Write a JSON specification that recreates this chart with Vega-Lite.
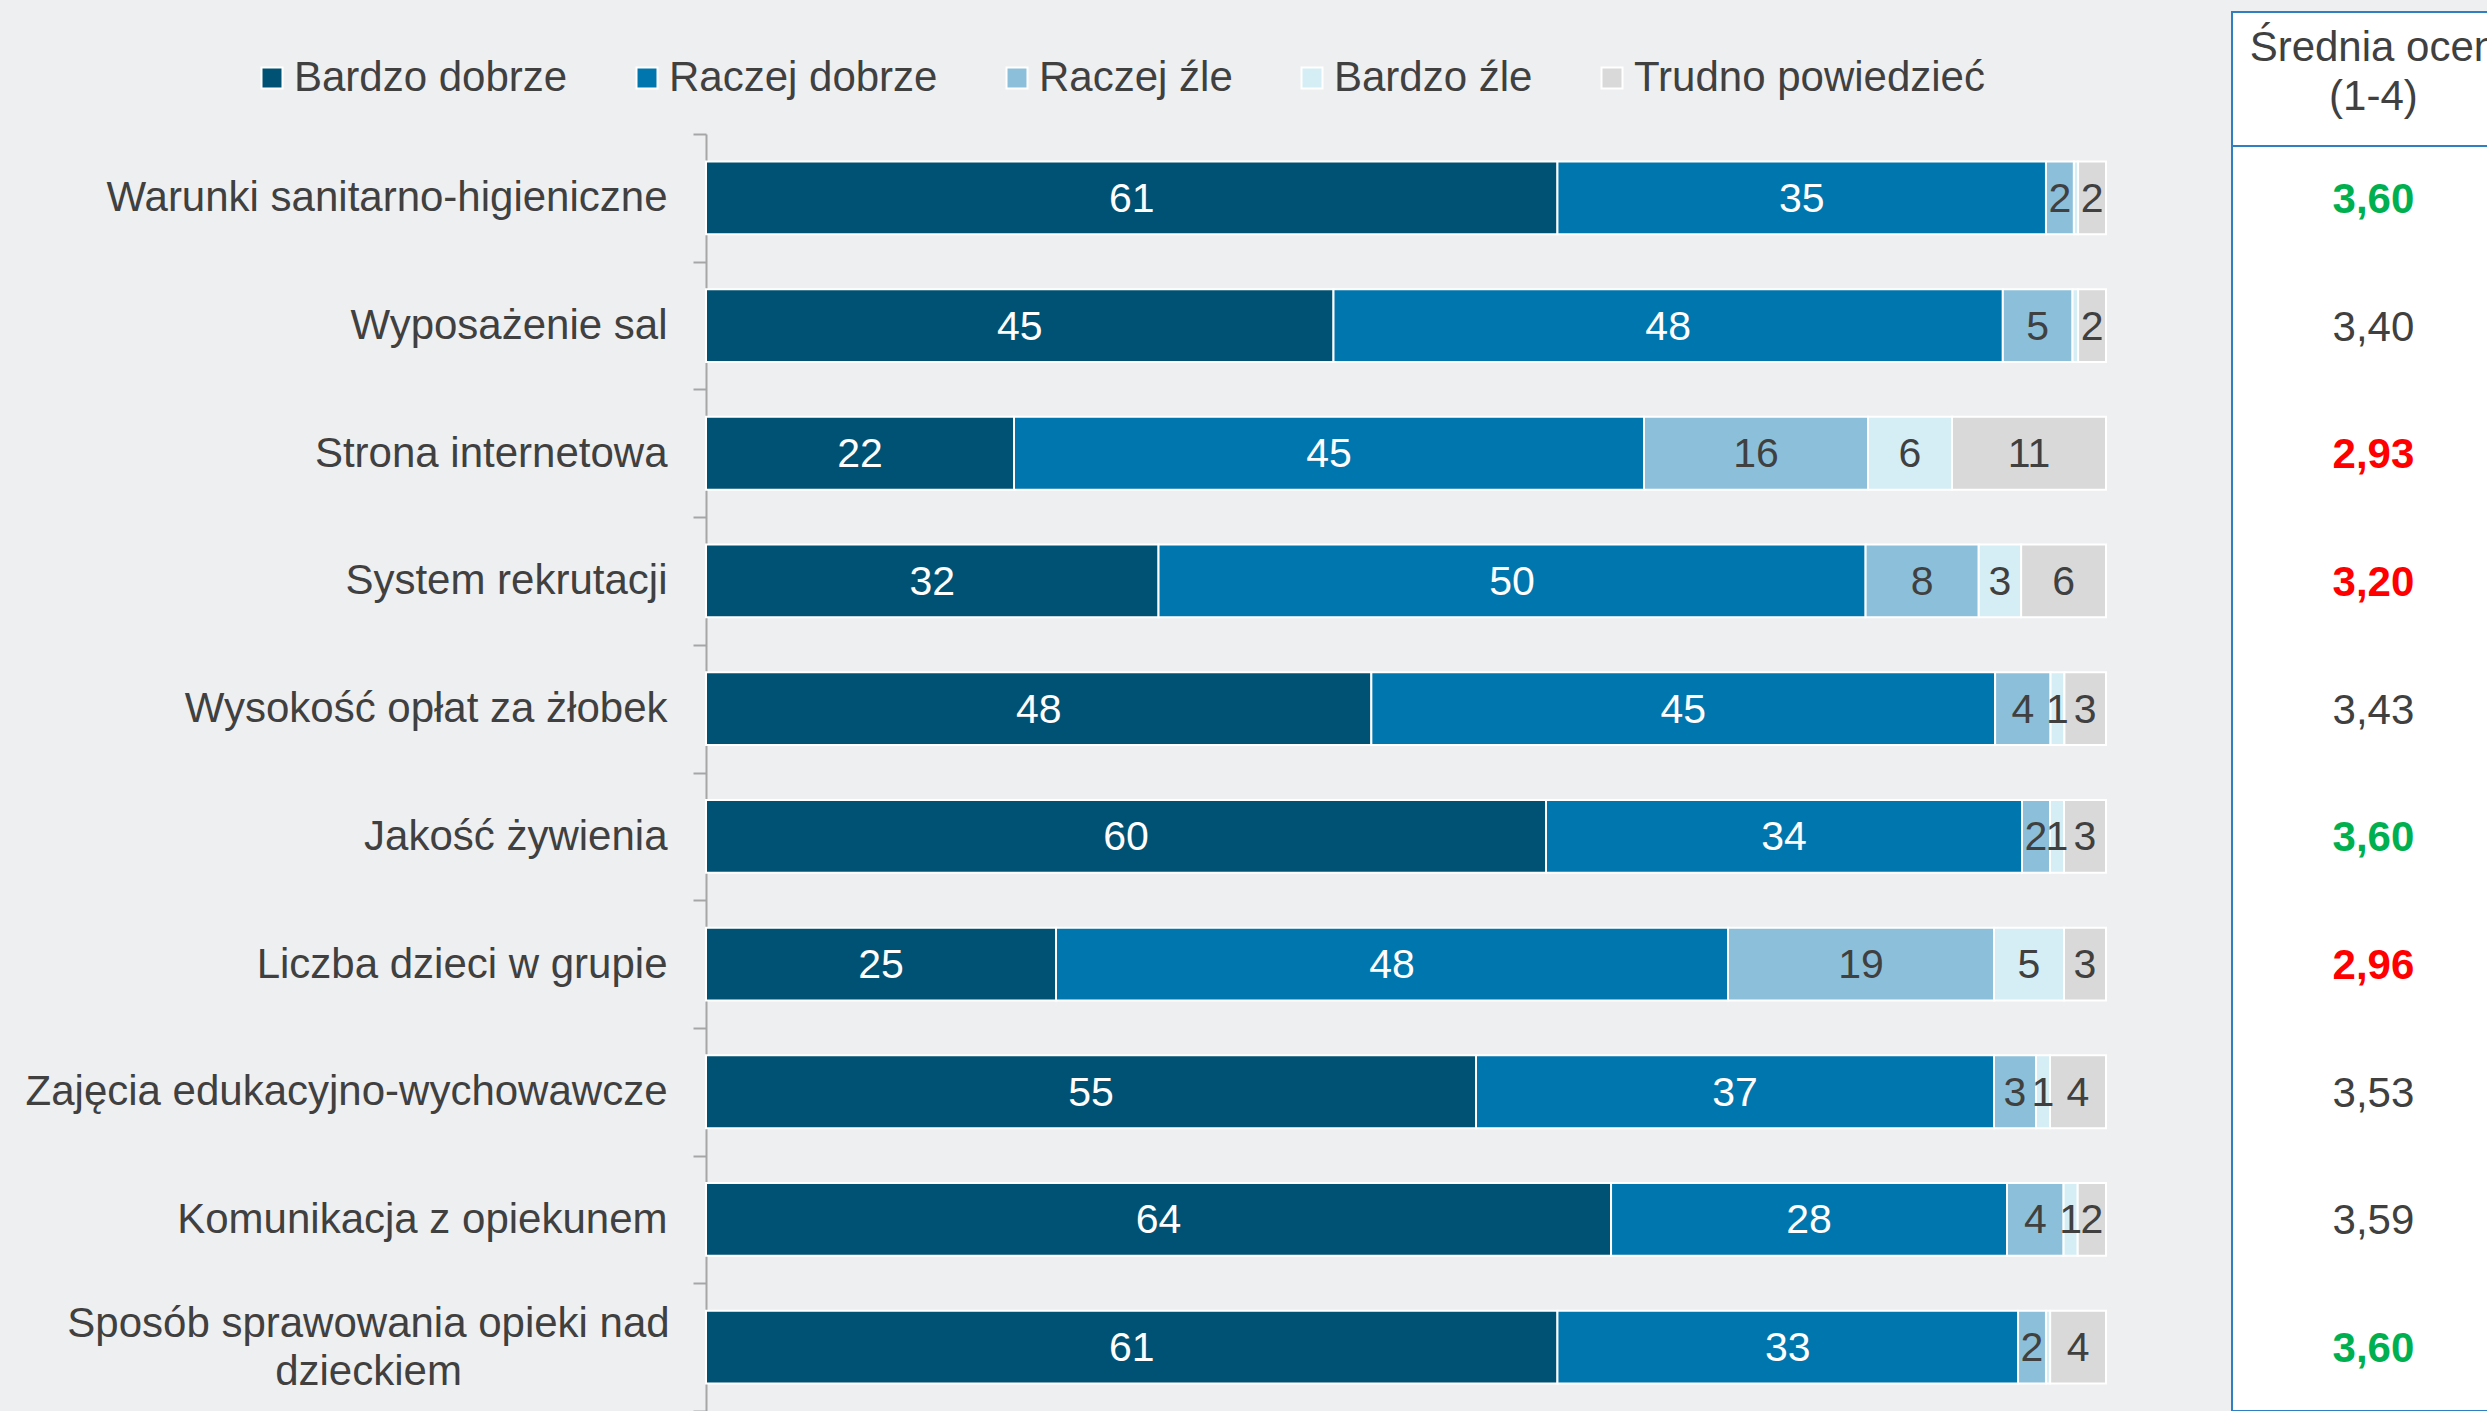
{
  "$schema": "https://vega.github.io/schema/vega-lite/v6.json",
  "autosize": "none",
  "width": 1781,
  "height": 1399,
  "padding": {"left": 706, "top": 12, "right": 0, "bottom": 0},
  "background": "#eeeff1",
  "config": {"view": {"stroke": null}, "font": "Liberation Sans"},
  "datasets": {
    "panel": [{"p": "H"}],
    "survey": [
      {"row": "Warunki sanitarno-higieniczne", "cat": "Bardzo dobrze", "idx": 1, "v": 61, "label": "61"},
      {"row": "Warunki sanitarno-higieniczne", "cat": "Raczej dobrze", "idx": 2, "v": 35, "label": "35"},
      {"row": "Warunki sanitarno-higieniczne", "cat": "Raczej źle", "idx": 3, "v": 2, "label": "2"},
      {"row": "Warunki sanitarno-higieniczne", "cat": "Bardzo źle", "idx": 4, "v": 0.3, "label": ""},
      {"row": "Warunki sanitarno-higieniczne", "cat": "Trudno powiedzieć", "idx": 5, "v": 2, "label": "2"},
      {"row": "Wyposażenie sal", "cat": "Bardzo dobrze", "idx": 1, "v": 45, "label": "45"},
      {"row": "Wyposażenie sal", "cat": "Raczej dobrze", "idx": 2, "v": 48, "label": "48"},
      {"row": "Wyposażenie sal", "cat": "Raczej źle", "idx": 3, "v": 5, "label": "5"},
      {"row": "Wyposażenie sal", "cat": "Bardzo źle", "idx": 4, "v": 0.4, "label": ""},
      {"row": "Wyposażenie sal", "cat": "Trudno powiedzieć", "idx": 5, "v": 2, "label": "2"},
      {"row": "Strona internetowa", "cat": "Bardzo dobrze", "idx": 1, "v": 22, "label": "22"},
      {"row": "Strona internetowa", "cat": "Raczej dobrze", "idx": 2, "v": 45, "label": "45"},
      {"row": "Strona internetowa", "cat": "Raczej źle", "idx": 3, "v": 16, "label": "16"},
      {"row": "Strona internetowa", "cat": "Bardzo źle", "idx": 4, "v": 6, "label": "6"},
      {"row": "Strona internetowa", "cat": "Trudno powiedzieć", "idx": 5, "v": 11, "label": "11"},
      {"row": "System rekrutacji", "cat": "Bardzo dobrze", "idx": 1, "v": 32, "label": "32"},
      {"row": "System rekrutacji", "cat": "Raczej dobrze", "idx": 2, "v": 50, "label": "50"},
      {"row": "System rekrutacji", "cat": "Raczej źle", "idx": 3, "v": 8, "label": "8"},
      {"row": "System rekrutacji", "cat": "Bardzo źle", "idx": 4, "v": 3, "label": "3"},
      {"row": "System rekrutacji", "cat": "Trudno powiedzieć", "idx": 5, "v": 6, "label": "6"},
      {"row": "Wysokość opłat za żłobek", "cat": "Bardzo dobrze", "idx": 1, "v": 48, "label": "48"},
      {"row": "Wysokość opłat za żłobek", "cat": "Raczej dobrze", "idx": 2, "v": 45, "label": "45"},
      {"row": "Wysokość opłat za żłobek", "cat": "Raczej źle", "idx": 3, "v": 4, "label": "4"},
      {"row": "Wysokość opłat za żłobek", "cat": "Bardzo źle", "idx": 4, "v": 1, "label": "1"},
      {"row": "Wysokość opłat za żłobek", "cat": "Trudno powiedzieć", "idx": 5, "v": 3, "label": "3"},
      {"row": "Jakość żywienia", "cat": "Bardzo dobrze", "idx": 1, "v": 60, "label": "60"},
      {"row": "Jakość żywienia", "cat": "Raczej dobrze", "idx": 2, "v": 34, "label": "34"},
      {"row": "Jakość żywienia", "cat": "Raczej źle", "idx": 3, "v": 2, "label": "2"},
      {"row": "Jakość żywienia", "cat": "Bardzo źle", "idx": 4, "v": 1, "label": "1"},
      {"row": "Jakość żywienia", "cat": "Trudno powiedzieć", "idx": 5, "v": 3, "label": "3"},
      {"row": "Liczba dzieci w grupie", "cat": "Bardzo dobrze", "idx": 1, "v": 25, "label": "25"},
      {"row": "Liczba dzieci w grupie", "cat": "Raczej dobrze", "idx": 2, "v": 48, "label": "48"},
      {"row": "Liczba dzieci w grupie", "cat": "Raczej źle", "idx": 3, "v": 19, "label": "19"},
      {"row": "Liczba dzieci w grupie", "cat": "Bardzo źle", "idx": 4, "v": 5, "label": "5"},
      {"row": "Liczba dzieci w grupie", "cat": "Trudno powiedzieć", "idx": 5, "v": 3, "label": "3"},
      {"row": "Zajęcia edukacyjno-wychowawcze", "cat": "Bardzo dobrze", "idx": 1, "v": 55, "label": "55"},
      {"row": "Zajęcia edukacyjno-wychowawcze", "cat": "Raczej dobrze", "idx": 2, "v": 37, "label": "37"},
      {"row": "Zajęcia edukacyjno-wychowawcze", "cat": "Raczej źle", "idx": 3, "v": 3, "label": "3"},
      {"row": "Zajęcia edukacyjno-wychowawcze", "cat": "Bardzo źle", "idx": 4, "v": 1, "label": "1"},
      {"row": "Zajęcia edukacyjno-wychowawcze", "cat": "Trudno powiedzieć", "idx": 5, "v": 4, "label": "4"},
      {"row": "Komunikacja z opiekunem", "cat": "Bardzo dobrze", "idx": 1, "v": 64, "label": "64"},
      {"row": "Komunikacja z opiekunem", "cat": "Raczej dobrze", "idx": 2, "v": 28, "label": "28"},
      {"row": "Komunikacja z opiekunem", "cat": "Raczej źle", "idx": 3, "v": 4, "label": "4"},
      {"row": "Komunikacja z opiekunem", "cat": "Bardzo źle", "idx": 4, "v": 1, "label": "1"},
      {"row": "Komunikacja z opiekunem", "cat": "Trudno powiedzieć", "idx": 5, "v": 2, "label": "2"},
      {"row": "Sposób sprawowania opieki nad dzieckiem", "cat": "Bardzo dobrze", "idx": 1, "v": 61, "label": "61"},
      {"row": "Sposób sprawowania opieki nad dzieckiem", "cat": "Raczej dobrze", "idx": 2, "v": 33, "label": "33"},
      {"row": "Sposób sprawowania opieki nad dzieckiem", "cat": "Raczej źle", "idx": 3, "v": 2, "label": "2"},
      {"row": "Sposób sprawowania opieki nad dzieckiem", "cat": "Bardzo źle", "idx": 4, "v": 0.3, "label": ""},
      {"row": "Sposób sprawowania opieki nad dzieckiem", "cat": "Trudno powiedzieć", "idx": 5, "v": 4, "label": "4"}
    ],
    "means": [
      {"row": "Warunki sanitarno-higieniczne", "mean": 3.60, "ocena": "3,60"},
      {"row": "Wyposażenie sal", "mean": 3.40, "ocena": "3,40"},
      {"row": "Strona internetowa", "mean": 2.93, "ocena": "2,93"},
      {"row": "System rekrutacji", "mean": 3.20, "ocena": "3,20"},
      {"row": "Wysokość opłat za żłobek", "mean": 3.43, "ocena": "3,43"},
      {"row": "Jakość żywienia", "mean": 3.60, "ocena": "3,60"},
      {"row": "Liczba dzieci w grupie", "mean": 2.96, "ocena": "2,96"},
      {"row": "Zajęcia edukacyjno-wychowawcze", "mean": 3.53, "ocena": "3,53"},
      {"row": "Komunikacja z opiekunem", "mean": 3.59, "ocena": "3,59"},
      {"row": "Sposób sprawowania opieki nad dzieckiem", "mean": 3.60, "ocena": "3,60"}
    ]
  },
  "layer": [
    {
      "data": {"name": "panel"},
      "mark": {"type": "rect", "fill": "white", "stroke": "#2f7fc1", "strokeWidth": 2},
      "encoding": {
        "x": {"datum": 1.09, "type": "quantitative", "scale": {"domain": [0, 1], "range": [0, 1400], "nice": false}},
        "x2": {"datum": 1.6},
        "y": {"field": "p", "type": "nominal", "scale": {"domain": ["H"], "range": [0, 1399], "paddingInner": 0, "paddingOuter": 0}, "axis": null}
      }
    },
    {
      "data": {"name": "panel"},
      "layer": [
        {
          "mark": {"type": "rect", "fill": "white", "fillOpacity": 0, "stroke": "#2f7fc1", "strokeWidth": 2},
          "encoding": {
            "x": {"datum": 1.09, "type": "quantitative", "scale": {"domain": [0, 1], "range": [0, 1400], "nice": false}},
            "x2": {"datum": 1.6},
            "y": {"field": "p", "type": "nominal", "scale": {"domain": ["H"], "range": [0, 134], "paddingInner": 0, "paddingOuter": 0}, "axis": null}
          }
        },
        {
          "mark": {"type": "text", "fontSize": 42, "color": "#404040", "lineHeight": 49, "baseline": "middle", "dy": -31},
          "encoding": {
            "x": {"datum": 1.191, "type": "quantitative", "scale": {"domain": [0, 1], "range": [0, 1400], "nice": false}},
            "y": {"field": "p", "type": "nominal", "scale": {"domain": ["H"], "range": [0, 134], "paddingInner": 0, "paddingOuter": 0}, "axis": null},
            "text": {"value": ["Średnia ocen", "(1-4)"]}
          }
        }
      ]
    },
    {
      "layer": [
        {
          "data": {"name": "survey"},
          "mark": {"type": "bar", "height": {"band": 0.57}, "stroke": "white", "strokeWidth": 2},
          "encoding": {
            "y": {
              "field": "row", "type": "nominal", "sort": null,
              "scale": {"domain": ["Warunki sanitarno-higieniczne", "Wyposażenie sal", "Strona internetowa", "System rekrutacji", "Wysokość opłat za żłobek", "Jakość żywienia", "Liczba dzieci w grupie", "Zajęcia edukacyjno-wychowawcze", "Komunikacja z opiekunem", "Sposób sprawowania opieki nad dzieckiem"], "range": [122, 1399], "paddingInner": 0, "paddingOuter": 0},
              "axis": {
                "title": null, "orient": "left", "tickBand": "extent",
                "domainColor": "#a6a6a6", "domainWidth": 2, "tickColor": "#a6a6a6", "tickWidth": 2, "tickSize": 13,
                "labelFont": "Liberation Sans", "labelFontSize": 42, "labelColor": "#404040", "labelLimit": 2000, "labelLineHeight": 48,
                "labelPadding": {"condition": {"test": "datum.value == 'Sposób sprawowania opieki nad dzieckiem'", "value": 325}, "value": 26},
                "labelAlign": {"condition": {"test": "datum.value == 'Sposób sprawowania opieki nad dzieckiem'", "value": "center"}, "value": "right"},
                "labelOffset": {"condition": {"test": "datum.value == 'Sposób sprawowania opieki nad dzieckiem'", "value": -24}, "value": 0},
                "labelExpr": "datum.value == 'Sposób sprawowania opieki nad dzieckiem' ? ['Sposób sprawowania opieki nad', 'dzieckiem'] : datum.value"
              }
            },
            "x": {"field": "v", "type": "quantitative", "stack": "normalize", "scale": {"domain": [0, 1], "range": [0, 1400], "nice": false}, "axis": null},
            "color": {
              "field": "cat", "type": "nominal",
              "scale": {"domain": ["Bardzo dobrze", "Raczej dobrze", "Raczej źle", "Bardzo źle", "Trudno powiedzieć"], "range": ["#005274", "#0076ae", "#8cc0da", "#d5eef5", "#d9d9d9"]},
              "legend": {
                "orient": "none", "legendX": -455, "legendY": 45, "direction": "horizontal", "columns": 5, "title": null,
                "symbolType": "square", "symbolSize": 441, "symbolStrokeWidth": 2, "symbolStrokeColor": "white",
                "labelFont": "Liberation Sans", "labelFontSize": 42, "labelColor": "#404040", "labelOffset": 1, "labelLimit": 1000, "columnPadding": 58, "padding": 0
              }
            },
            "order": {"field": "idx", "type": "quantitative"}
          }
        },
        {
          "data": {"name": "survey"},
          "mark": {"type": "text", "fontSize": 41, "baseline": "middle", "dy": 2},
          "encoding": {
            "y": {"field": "row", "type": "nominal", "sort": null},
            "x": {"field": "v", "type": "quantitative", "stack": "normalize", "bandPosition": 0.5},
            "text": {"field": "label"},
            "color": {"condition": {"test": "datum.idx <= 2", "value": "white"}, "value": "#404040"},
            "order": {"field": "idx", "type": "quantitative"}
          }
        },
        {
          "data": {"name": "means"},
          "transform": [{"filter": "datum.mean < 3.6 && datum.mean >= 3.3"}],
          "mark": {"type": "text", "fontSize": 42, "baseline": "middle", "color": "#404040", "dy": 2},
          "encoding": {
            "y": {"field": "row", "type": "nominal", "sort": null},
            "x": {"datum": 1.191, "type": "quantitative"},
            "text": {"field": "ocena"}
          }
        },
        {
          "data": {"name": "means"},
          "transform": [{"filter": "datum.mean >= 3.6 || datum.mean < 3.3"}],
          "mark": {"type": "text", "fontSize": 42, "baseline": "middle", "fontWeight": "bold", "dy": 2},
          "encoding": {
            "y": {"field": "row", "type": "nominal", "sort": null},
            "x": {"datum": 1.191, "type": "quantitative"},
            "text": {"field": "ocena"},
            "color": {"condition": {"test": "datum.mean >= 3.6", "value": "#00b050"}, "value": "#ff0000"}
          }
        }
      ]
    }
  ],
  "resolve": {"scale": {"y": "independent"}}
}
